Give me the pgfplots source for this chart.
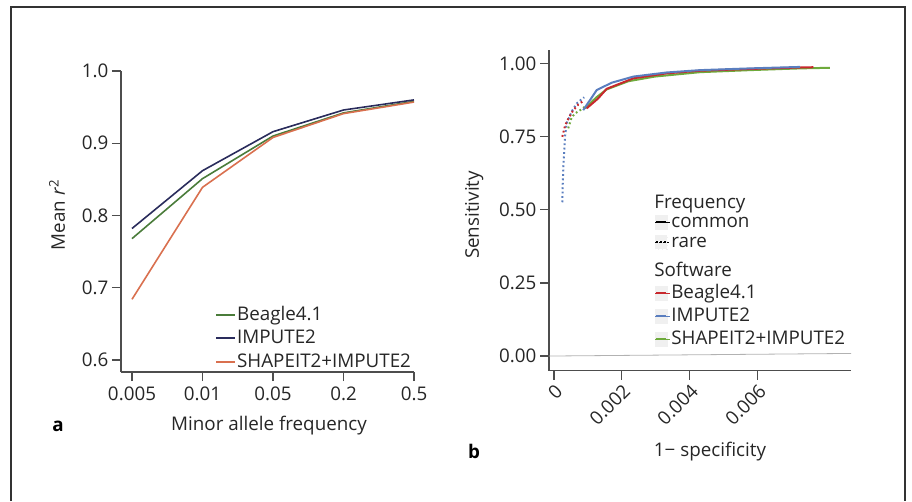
\documentclass[border=0pt]{standalone}
\usepackage{pgfplots}
\pgfplotsset{compat=1.18}
\usepackage{fontspec}
\setmainfont{Open Sans}
\definecolor{frame}{HTML}{333333}
\definecolor{axc}{HTML}{4D4D4D}
\definecolor{agreen}{HTML}{4A7C3A}
\definecolor{anavy}{HTML}{2A2C5C}
\definecolor{aorange}{HTML}{D9704F}
\definecolor{bred}{HTML}{C8282D}
\definecolor{bblue}{HTML}{5A7EBF}
\definecolor{bgreen}{HTML}{6EAA3C}
\newcommand{\fs}{\fontsize{18.8}{22}\selectfont}
% strut: depth d, height h above baseline
\newcommand{\legstrut}[2]{\rule[-#1pt]{0pt}{\dimexpr#1pt+#2pt\relax}}
\pgfplotsset{
  keya/.style={legend image code/.code={\draw[##1, line width=1.6pt] (0pt,0pt) -- (13pt,0pt); \path (0pt,0pt) -- (19pt,0pt);}},
  keyb/.style={legend image code/.code={\fill[black!6] (0pt,-7pt) rectangle (12pt,7pt); \draw[##1, line width=1.6pt] (1pt,0pt) -- (11pt,0pt); \path (0pt,0pt) -- (15pt,0pt);}},
}
\begin{document}
\begin{tikzpicture}
\path[use as bounding box] (0pt,0pt) rectangle (912pt,501pt);
\draw[frame, line width=1.2pt] (11pt,0pt) -- (11pt,494pt) -- (905pt,494pt) -- (905pt,0pt);
% ---------------- panel a
\begin{axis}[
  at={(121pt,129pt)}, anchor=south west,
  scale only axis, width=293pt, height=301pt,
  xmin=-0.156, xmax=4, ymin=0.5834, ymax=1.0,
  axis x line*=bottom, axis y line*=left,
  axis line style={axc, line width=1.2pt},
  every tick/.style={axc, line width=1.2pt},
  tick align=outside, major tick length=9pt,
  xtick={0,1,2,3,4}, xticklabels={0.005,0.01,0.05,0.2,0.5},
  ytick={0.6,0.7,0.8,0.9,1.0},
  yticklabel style={/pgf/number format/.cd, fixed, fixed zerofill, precision=1},
  /pgf/number format/assume math mode=true,
  tick label style={font=\fs, text=black!85},
  xticklabel style={yshift=-2pt},
  xlabel={Minor allele frequency},
  ylabel={Mean \textit{r}\textsuperscript{2}},
  label style={font=\fs, text=black!85},
  xlabel style={at={(axis description cs:0.505,-0.179)}, anchor=center},
  ylabel style={at={(axis description cs:-0.218,0.522)}, anchor=center},
  legend style={at={(axis description cs:0.322,0.23)}, anchor=north west, draw=none, fill=none,
    font=\fs, text=black!85, row sep=0pt, inner sep=0pt, nodes={inner sep=1pt, text depth=}},
  legend cell align=left,
]
\addplot[agreen, line width=1.6pt, keya] coordinates {(0,0.768) (1,0.851) (2,0.910) (3,0.942) (4,0.958)};
\addlegendentry{\legstrut{5.25}{16.25}Beagle4.1}
\addplot[anavy, line width=1.6pt, keya] coordinates {(0,0.782) (1,0.862) (2,0.916) (3,0.946) (4,0.960)};
\addlegendentry{\legstrut{5.25}{16.25}IMPUTE2}
\addplot[aorange, line width=1.6pt, keya] coordinates {(0,0.684) (1,0.839) (2,0.908) (3,0.941) (4,0.957)};
\addlegendentry{\legstrut{5.25}{16.25}SHAPEIT2+IMPUTE2}
\end{axis}
% ---------------- panel b
\begin{axis}[
  at={(549pt,130.3pt)}, anchor=south west,
  scale only axis, width=302pt, height=320.7pt,
  xmin=-0.000147, xmax=0.00875, ymin=-0.0503, ymax=1.0469,
  axis x line*=bottom, axis y line*=left,
  axis line style={axc, line width=1.2pt},
  every tick/.style={axc, line width=1.2pt},
  tick align=outside, major tick length=9pt,
  scaled x ticks=false,
  xtick={0,0.002,0.004,0.006}, xticklabels={0,0.002,0.004,0.006},
  ytick={0,0.25,0.5,0.75,1.0},
  yticklabel style={/pgf/number format/.cd, fixed, fixed zerofill, precision=2},
  /pgf/number format/assume math mode=true,
  tick label style={font=\fs, text=black!85},
  xticklabel style={rotate=45, anchor=north east, inner sep=2pt},
  xlabel={1− specificity},
  ylabel={Sensitivity},
  label style={font=\fs, text=black!85},
  xlabel style={at={(axis description cs:0.533,-0.2535)}, anchor=center},
  ylabel style={at={(axis description cs:-0.248,0.4855)}, anchor=center},
  legend style={at={(axis description cs:0.35,0.56)}, anchor=north west, draw=none, fill=none,
    font=\fs, text=black!85, row sep=0pt, inner sep=0pt, nodes={inner sep=1pt, text depth=}},
  legend cell align=left,
]
\addplot[black!30, line width=0.8pt, forget plot] coordinates {(-0.000147,-0.000147) (0.00875,0.00875)};
% rare (dotted)
\addplot[bblue, line width=2pt, dash pattern=on 1.8pt off 2.6pt, forget plot] coordinates {
 (0.000245,0.526) (0.000260,0.600) (0.000275,0.642) (0.000300,0.700) (0.000324,0.750) (0.000373,0.796)
 (0.00052,0.836) (0.00067,0.864) (0.00079,0.876) (0.00089,0.885)};
\addplot[bred, line width=2pt, dash pattern=on 1.8pt off 2.6pt, forget plot] coordinates {
 (0.000245,0.750) (0.000324,0.787) (0.00040,0.807) (0.00055,0.838) (0.00072,0.861) (0.00086,0.872)};
\addplot[bgreen, line width=2pt, dash pattern=on 1.8pt off 2.6pt, forget plot] coordinates {
 (0.00042,0.779) (0.00052,0.816) (0.00062,0.830) (0.00077,0.841) (0.00091,0.853) (0.00101,0.858)};
% common (solid)
\addplot[bgreen, line width=2pt, forget plot] coordinates {
 (0.00091,0.847) (0.00125,0.885) (0.00155,0.912) (0.00219,0.940) (0.00297,0.956) (0.0043,0.971)
 (0.00577,0.978) (0.00725,0.984) (0.00813,0.986)};
\addplot[bred, line width=2pt, forget plot] coordinates {
 (0.00096,0.847) (0.0013,0.881) (0.00155,0.914) (0.00234,0.950) (0.00332,0.967) (0.0043,0.976)
 (0.00577,0.982) (0.00725,0.987) (0.00764,0.988)};
\addplot[bblue, line width=2pt, forget plot] coordinates {
 (0.00086,0.841) (0.00126,0.910) (0.0017,0.935) (0.00234,0.956) (0.00332,0.970) (0.0043,0.978)
 (0.00577,0.984) (0.00725,0.989)};
% legend
\addlegendimage{empty legend}
\addlegendentry{\hspace*{-17pt}\legstrut{5}{16}Frequency}
\addlegendimage{keyb, black}
\addlegendentry{\legstrut{1}{12}common}
\addlegendimage{keyb, black, dash pattern=on 1.6pt off 2.4pt}
\addlegendentry{\legstrut{6}{17}rare}
\addlegendimage{empty legend}
\addlegendentry{\hspace*{-17pt}\legstrut{4.5}{21}Software}
\addlegendimage{keyb, bred}
\addlegendentry{\legstrut{4.5}{15.5}Beagle4.1}
\addlegendimage{keyb, bblue}
\addlegendentry{\legstrut{5.5}{16.5}IMPUTE2}
\addlegendimage{keyb, bgreen}
\addlegendentry{\legstrut{4.5}{15.5}SHAPEIT2+IMPUTE2}
\end{axis}
\node[font=\fs\bfseries, text=black] at (58pt,75pt) {a};
\node[font=\fs\bfseries, text=black] at (474pt,50pt) {b};
\end{tikzpicture}
\end{document}
